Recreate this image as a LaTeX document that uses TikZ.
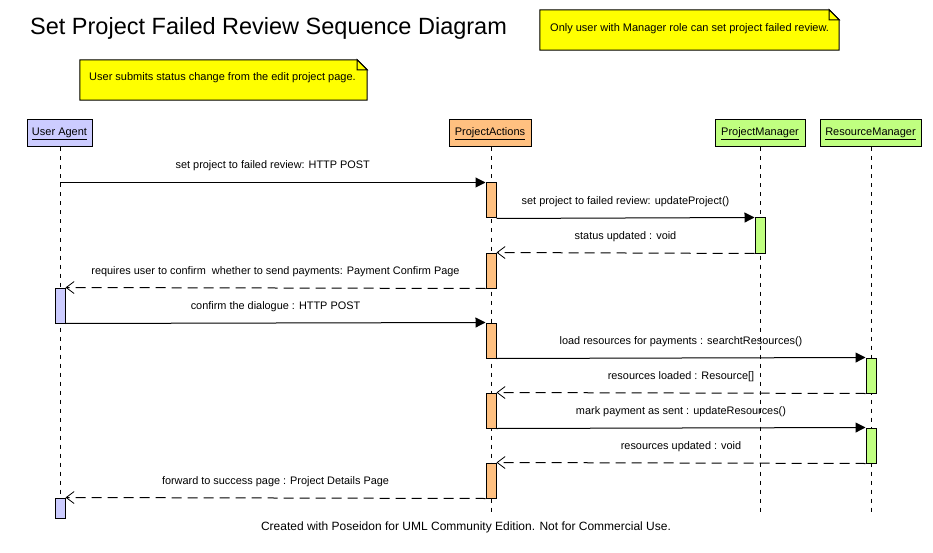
\documentclass[tikz,border=0pt]{standalone}
\usepackage{fontspec}
\setmainfont{Liberation Sans}
\usetikzlibrary{arrows.meta}
\definecolor{uacol}{HTML}{CCCCFF}
\definecolor{pacol}{HTML}{FFC080}
\definecolor{mgrcol}{HTML}{C0FF80}
\definecolor{notecol}{HTML}{FFFF00}
\begin{document}
\begin{tikzpicture}[x=1pt,y=-1pt,
  head/.style={draw, line width=1pt, minimum height=27pt, inner sep=0pt, font=\fontsize{11}{13}\selectfont},
  act/.style={draw, line width=1pt, minimum width=10pt, minimum height=35pt, inner sep=0pt},
  lifeline/.style={line width=1pt, dash pattern=on 4pt off 5pt},
  call/.style={line width=1pt, -{Triangle[length=10pt,width=10pt]}},
  ret/.style={line width=1pt, dash pattern=on 10pt off 6pt, -{Straight Barb[length=8pt,width=12pt,line width=0.8pt]}},
  msg/.style={font=\fontsize{10.9}{13}\selectfont, inner sep=0pt},
  notetext/.style={inner sep=0pt, font=\fontsize{11}{13}\selectfont},
  notebody/.style={draw, fill=notecol, line width=1pt, line join=miter}
]
\useasboundingbox (0,0) rectangle (933,553);

% title
\node[anchor=base west, inner sep=0pt, font=\fontsize{23.5}{27}\selectfont] (title) at (30,35) {Set Project Failed Review Sequence Diagram};

% notes
\node[notetext, minimum width=287pt, minimum height=40pt] (n1) at (223.5,80) {};
\draw[notebody] (n1.south west) -- (n1.north west) -- ([xshift=-10pt]n1.north east) -- ([yshift=-10pt]n1.north east) -- (n1.south east) -- cycle;
\draw[notebody] ([xshift=-10pt]n1.north east) -- ([xshift=-10pt,yshift=-10pt]n1.north east) -- ([yshift=-10pt]n1.north east) -- cycle;
\node[notetext, anchor=west] (n1t) at (89,78) {User submits status change from the edit project page.};

\node[notetext, minimum width=299pt, minimum height=40pt] (n2) at (689.5,30) {};
\draw[notebody] (n2.south west) -- (n2.north west) -- ([xshift=-10pt]n2.north east) -- ([yshift=-10pt]n2.north east) -- (n2.south east) -- cycle;
\draw[notebody] ([xshift=-10pt]n2.north east) -- ([xshift=-10pt,yshift=-10pt]n2.north east) -- ([yshift=-10pt]n2.north east) -- cycle;
\node[notetext, anchor=west] (n2t) at (550,29) {Only user with Manager role can set project failed review.};

% heads
\node[head, fill=uacol, minimum width=65pt] (ua) at (59.5,133.5) {\underline{User Agent}};
\node[head, fill=pacol, minimum width=82pt] (pa) at (490,133.5) {\underline{ProjectActions}};
\node[head, fill=mgrcol, minimum width=90pt] (pm) at (760,133.5) {\underline{ProjectManager}};
\node[head, fill=mgrcol, minimum width=101pt] (rm) at (870.5,133.5) {\underline{ResourceManager}};

% lifeline ends
\coordinate (uae) at (60,515);
\coordinate (pae) at (491,515);
\coordinate (pme) at (760,515);
\coordinate (rme) at (871,515);
\draw[lifeline] (ua.south -| uae) -- (uae);
\draw[lifeline] (pa.south -| pae) -- (pae);
\draw[lifeline] (pm.south -| pme) -- (pme);
\draw[lifeline] (rm.south -| rme) -- (rme);

% activations
\node[act, fill=pacol] (pa1) at (491,200.5) {};
\node[act, fill=mgrcol] (pm1) at (760,235.5) {};
\node[act, fill=pacol] (pa2) at (491,270.5) {};
\node[act, fill=uacol] (ua1) at (60,305.5) {};
\node[act, fill=pacol] (pa3) at (491,340.5) {};
\node[act, fill=mgrcol] (rm1) at (871,375.5) {};
\node[act, fill=pacol] (pa4) at (491,410.5) {};
\node[act, fill=mgrcol] (rm2) at (871,445.5) {};
\node[act, fill=pacol] (pa5) at (491,480.5) {};
\node[act, fill=uacol, minimum height=20pt] (ua2) at (60,508) {};

% messages
\coordinate (m1s) at (uae |- pa1.north);
\draw[call] (m1s) -- (pa1.north west) node[msg, midway, yshift=16.5pt] {set project to failed review: HTTP POST};
\draw[call] (pa1.south east) -- (pm1.north west) node[msg, midway, yshift=16.5pt] {set project to failed review: updateProject()};
\draw[ret] (pm1.south west) -- (pa2.north east) node[msg, midway, yshift=16.5pt] {status updated : void};
\draw[ret] (pa2.south west) -- (ua1.north east) node[msg, midway, yshift=16.5pt] {requires user to confirm\ \ whether to send payments: Payment Confirm Page};
\draw[call] (ua1.south east) -- (pa3.north west) node[msg, midway, yshift=16.5pt] {confirm the dialogue : HTTP POST};
\draw[call] (pa3.south east) -- (rm1.north west) node[msg, midway, yshift=16.5pt] {load resources for payments : searchtResources()};
\draw[ret] (rm1.south west) -- (pa4.north east) node[msg, midway, yshift=16.5pt] {resources loaded : Resource[]};
\draw[call] (pa4.south east) -- (rm2.north west) node[msg, midway, yshift=16.5pt] {mark payment as sent : updateResources()};
\draw[ret] (rm2.south west) -- (pa5.north east) node[msg, midway, yshift=16.5pt] {resources updated : void};
\draw[ret] (pa5.south west) -- (ua2.north east) node[msg, midway, yshift=16.5pt] {forward to success page : Project Details Page};

% footer
\node[msg, font=\fontsize{12}{14}\selectfont] (footer) at (466,527) {Created with Poseidon for UML Community Edition. Not for Commercial Use.};
\end{tikzpicture}
\end{document}
